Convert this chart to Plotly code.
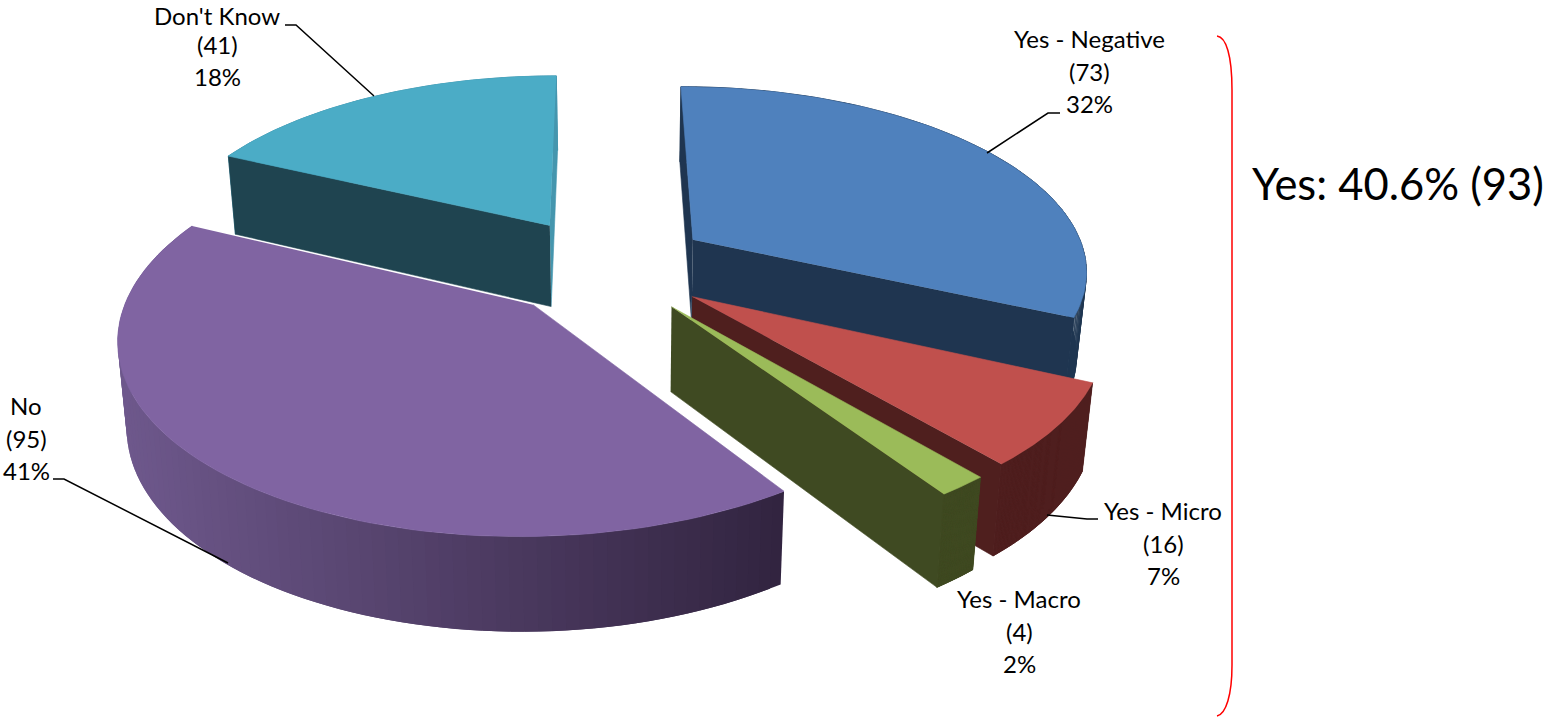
import numpy as np
import plotly.graph_objects as go

categories = ["Yes - Negative", "Yes - Micro", "Yes - Macro", "No", "Don't Know"]
values = [73, 16, 4, 95, 41]
yes_total = 93
top_colors = ["#4F81BD", "#C0504D", "#9BBB59", "#8064A2", "#4BACC6"]
rim_colors = ["#1F3550", "#4F1F1E", "#3F4A22", "#33243F", "#4596AE"]
start_side_colors = ["#1F3550", "#4F1F1E", "#3F4A22", "#33243F", "#1F4450"]
end_side_colors = ["#1F3550", "#4F1F1E", "#3F4A22", "#33243F", "#4596AE"]
label_centres = [(1089, 71), (1163, 543), (1019, 631), (26, 438), (217, 44)]
draw_order = [4, 0, 1, 2, 3]

# Projection of the tilted pie onto the page
CX, CY, RX, RY, PERSP = 605.0, 265.9, 395.6, 183.6, 0.152
ROTATION = -0.1
EXPLODE = 0.27
FONT = "Lato"
FONT_SIZE = 24
LINE_STEP = 32.5
MIN_TEXT_Y = 15

total = sum(values)
sweep = np.array(values) / total * 360
cum = np.concatenate([[0], np.cumsum(sweep)])


def project(u, v):
    s = 1 + PERSP * v
    return CX + RX * u / s, CY - RY * v / s


def bottom(x, y):
    x = np.asarray(x, float)
    y = np.asarray(y, float)
    slope = np.where(x < 630, 0.0175, 0.022)
    return x - slope * (x - 630), y + 71 + 0.045 * y


def slice_points(i, n=90):
    mid = np.radians(ROTATION + (cum[i] + cum[i + 1]) / 2)
    ou, ov = EXPLODE * np.sin(mid), EXPLODE * np.cos(mid)
    t = np.radians(ROTATION + np.linspace(cum[i], cum[i + 1], n))
    ax, ay = project(ou, ov)
    xs, ys = project(np.sin(t) + ou, np.cos(t) + ov)
    return float(ax), float(ay), xs, ys


fig = go.Figure()


def poly(xs, ys, color, width=0.6):
    fig.add_trace(go.Scatter(x=list(xs), y=list(ys), mode="lines", fill="toself", fillcolor=color,
                             line=dict(color=color, width=width), hoverinfo="skip", showlegend=False))


def gradient_colour(x):
    f = np.clip((x - 120) / 660, 0, 1)
    a, b = np.array([110, 88, 140]), np.array([50, 36, 64])
    c = a + (b - a) * f
    return f"rgb({c[0]:.0f},{c[1]:.0f},{c[2]:.0f})"


def side_visible(ax, ay, cx, cy, bx, by, mx, my):
    ex, ey = cx - ax, cy - ay
    s_mid = ex * (my - ay) - ey * (mx - ax)
    s_bot = ex * (by - ay) - ey * (bx - ax)
    return s_mid * s_bot < 0


for i in draw_order:
    ax, ay, xs, ys = slice_points(i)
    bx, by = bottom(xs, ys)
    abx, aby = bottom(ax, ay)
    abx, aby = float(abx), float(aby)
    n = len(xs)
    mx, my = xs[n // 2], ys[n // 2]

    # outer rim wall, one quad per arc step
    if categories[i] == "No":
        for j in range(n - 1):
            k = min(j + 2, n - 1)
            poly([xs[j], xs[k], bx[k], bx[j]], [ys[j], ys[k], by[k], by[j]],
                 gradient_colour((xs[j] + xs[j + 1]) / 2), width=0)
    else:
        poly(list(xs) + list(bx[::-1]), list(ys) + list(by[::-1]), rim_colors[i])
        qx, qy = [], []
        for j in range(n - 1):
            qx += [xs[j], xs[j + 1], bx[j + 1], bx[j], xs[j], None]
            qy += [ys[j], ys[j + 1], by[j + 1], by[j], ys[j], None]
        poly(qx, qy, rim_colors[i])

    # cut faces that look towards the viewer
    if side_visible(ax, ay, xs[-1], ys[-1], bx[-1], by[-1], mx, my):
        poly([ax, xs[-1], bx[-1], abx], [ay, ys[-1], by[-1], aby], end_side_colors[i])
    if side_visible(ax, ay, xs[0], ys[0], bx[0], by[0], mx, my):
        poly([ax, xs[0], bx[0], abx], [ay, ys[0], by[0], aby], start_side_colors[i])

    # top face
    poly([ax] + list(xs), [ay] + list(ys), top_colors[i])

annotations = []
for cat, val, (lx, ly) in zip(categories, values, label_centres):
    lines = [cat, f"({val})", f"{val / total * 100:.0f}%"]
    for k, line in enumerate(lines):
        annotations.append(dict(x=lx, y=max(ly + (k - 1) * LINE_STEP, MIN_TEXT_Y), text=line, showarrow=False,
                                xanchor="center", yanchor="middle",
                                font=dict(family=FONT, size=FONT_SIZE, color="black")))
annotations.append(dict(x=1250, y=183, text=f"Yes: {yes_total / total * 100:.1f}% ({yes_total})", showarrow=False,
                        xanchor="left", yanchor="middle", font=dict(family=FONT, size=43.5, color="black")))

leader = dict(color="black", width=1.5)
shapes = [
    dict(type="path", path="M285,25 L296,25 L374,96", line=leader),
    dict(type="path", path="M1060,113 L1048,113 L987,153", line=leader),
    dict(type="path", path="M1047,515 L1087,519 L1098,519", line=leader),
    dict(type="path", path="M53,479 L64,479 L228,563", line=leader),
    dict(type="path", path="M1217,36 C1226,37 1232,55 1232,90 L1232,665 C1232,695 1226,714 1217,716",
         line=dict(color="#FF0000", width=1.5)),
]
for s in shapes:
    s.update(xref="x", yref="y", layer="above")

fig.update_layout(width=1545, height=717, margin=dict(l=0, r=0, t=0, b=0),
                  plot_bgcolor="white", paper_bgcolor="white",
                  xaxis=dict(range=[0, 1545], visible=False, fixedrange=True),
                  yaxis=dict(range=[717, 0], visible=False, fixedrange=True),
                  annotations=annotations, shapes=shapes)
fig.write_html("out.html", config=dict(displayModeBar=False),
               post_script="document.body.style.margin='0';")
